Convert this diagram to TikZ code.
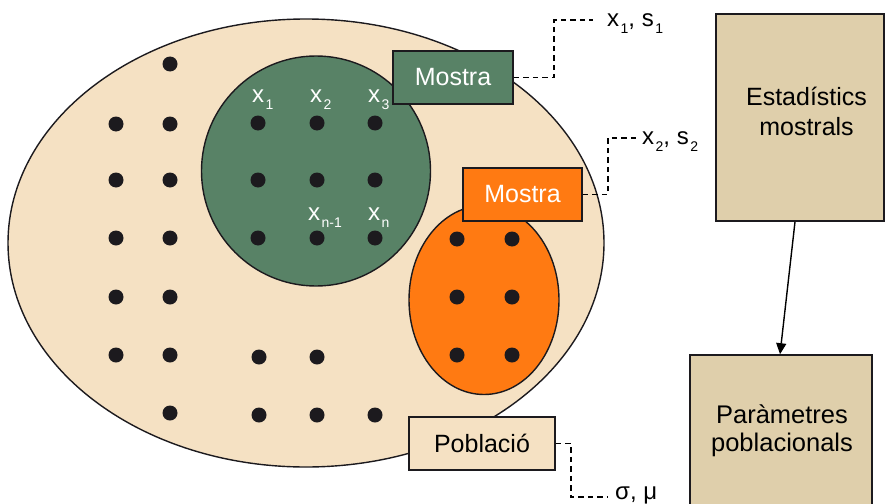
\documentclass[tikz,border=0pt]{standalone}
\usepackage{fontspec}
\setmainfont{Liberation Sans}
\usetikzlibrary{shapes.geometric,arrows.meta}

\definecolor{popfill}{RGB}{245,225,195}
\definecolor{samplegreen}{RGB}{88,130,102}
\definecolor{sampleorange}{RGB}{255,122,18}
\definecolor{tanbox}{RGB}{223,207,171}
\definecolor{outline}{RGB}{28,26,30}

% lowered index after a symbol, e.g. x_1
\newcommand\lowidx[1]{\hspace{1.5pt}\raisebox{-7pt}{\fontsize{14}{14}\selectfont #1}}

\begin{document}
\begin{tikzpicture}[x=1pt,y=-1pt,
  bigfont/.style={font=\fontsize{24}{29}\selectfont},
  namefont/.style={font=\fontsize{25}{29}\selectfont},
  sidetext/.style={align=center,inner sep=0pt},
  setshape/.style={ellipse,draw=outline,line width=1.4pt,inner sep=0pt},
  labelbox/.style={rectangle,draw=outline,line width=1.6pt,namefont,inner sep=0pt},
  sidebox/.style={rectangle,draw=outline,line width=1.6pt,fill=tanbox,inner sep=0pt},
  dot/.style={fill=outline},
  leader/.style={line width=1.4pt,dash pattern=on 5.5pt off 4pt},
  idxlabel/.style={anchor=base west,inner sep=0pt,bigfont},
  arrow/.style={line width=1.4pt,-{Triangle[length=11pt,width=10pt]}}]

\useasboundingbox (0,0) rectangle (885,503);

% population and the two samples
\node[setshape,fill=popfill,minimum width=596pt,minimum height=448pt] (pop) at (306,243) {};
\node[setshape,fill=samplegreen,minimum width=229pt,minimum height=230pt] (greenset) at (316,171) {};
\node[setshape,fill=sampleorange,minimum width=150pt,minimum height=189pt] (orangeset) at (484,300) {};

% individuals of the population
\foreach \y in {124,180,238,297,355} \fill[dot] (116,\y) circle (7.5);
\foreach \y in {64,124,180,238,297,355,413} \fill[dot] (170,\y) circle (7.5);
\foreach \x/\y in {259/357,317/357,259/415,317/415,375/415} \fill[dot] (\x,\y) circle (7.5);
% individuals of the green sample
\foreach \x in {258,317,375}
  \foreach \y in {123,180,238} \fill[dot] (\x,\y) circle (7.5);
% individuals of the orange sample
\foreach \x in {457,512}
  \foreach \y in {239,297,355} \fill[dot] (\x,\y) circle (7.5);

% element labels
\node[idxlabel,text=white] (lx1) at (252,102) {x\lowidx{1}};
\node[idxlabel,text=white] (lx2) at (310,102) {x\lowidx{2}};
\node[idxlabel,text=white] (lx3) at (368,102) {x\lowidx{3}};
\node[idxlabel,text=white] (lxn1) at (308,220) {x\lowidx{n-1}};
\node[idxlabel,text=white] (lxn) at (368,220) {x\lowidx{n}};

% name boxes
\node[labelbox,fill=samplegreen,text=white,minimum width=120pt,minimum height=53pt] (m1) at (453,77.5) {Mostra};
\node[labelbox,fill=sampleorange,text=white,minimum width=119pt,minimum height=53pt] (m2) at (522.5,194.5) {Mostra};
\node[labelbox,fill=popfill,text=black,minimum width=146pt,minimum height=53pt] (popname) at (482,443.5) {Població};

% statistics and parameters
\node[idxlabel] (s1) at (607,27) {x\lowidx{1}, s\lowidx{1}};
\node[idxlabel] (s2) at (642,144) {x\lowidx{2}, s\lowidx{2}};
\node[idxlabel] (sp) at (615,499) {σ, μ};
\coordinate (e1) at (593,20);
\coordinate (e2) at (636,138);
\coordinate (ep) at (608,497);

\draw[leader] (m1.east) -- (554,77.5) |- (e1);
\draw[leader] (m2.east) -- (608,194.5) |- (e2);
\draw[leader] (popname.east) -- (571,443.5) |- (ep);

% right-hand column
\node[sidebox,minimum width=168pt,minimum height=207pt] (est) at (800,117.5) {};
\node[sidetext,font=\fontsize{25}{30}\selectfont] (esttext) at (806.5,111) {Estadístics\\mostrals};
\node[sidebox,minimum width=182pt,minimum height=156pt] (param) at (781,433) {};
\node[sidetext,font=\fontsize{25.5}{28}\selectfont] (paramtext) at (782,431) {Paràmetres\\poblacionals};
\draw[arrow] ([xshift=-5pt]est.south) -- ([xshift=-1pt]param.north);

\end{tikzpicture}
\end{document}
